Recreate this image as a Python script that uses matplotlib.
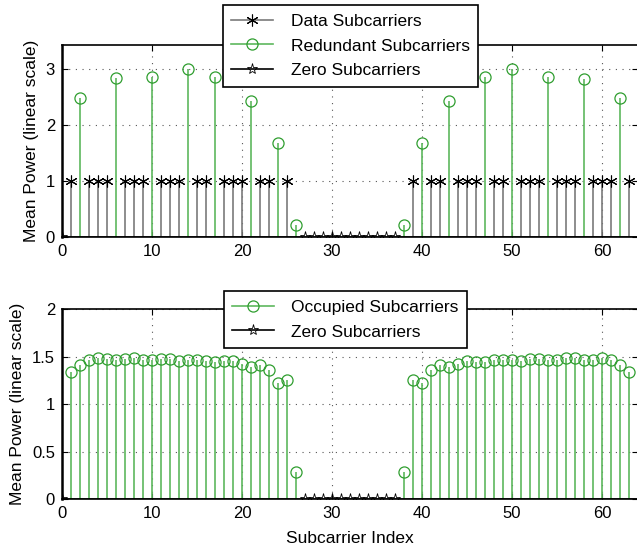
import numpy as np
import matplotlib
matplotlib.use('Agg')
import matplotlib.pyplot as plt
from matplotlib.lines import Line2D
from matplotlib.legend_handler import HandlerLine2D

plt.rcParams['font.family'] = ['Liberation Sans', 'DejaVu Sans']
plt.rcParams['font.size'] = 12

# subcarrier indices
data_idx = [1, 3, 4, 5, 7, 8, 9, 11, 12, 13, 15, 16, 18, 19, 20, 22, 23, 25,
            39, 41, 42, 44, 45, 46, 48, 49, 51, 52, 53, 55, 56, 57, 59, 60, 61, 63]
data_pow = [1.0] * len(data_idx)

red_idx = [2, 6, 10, 14, 17, 21, 24, 26, 38, 40, 43, 47, 50, 54, 58, 62]
red_pow = [2.47, 2.83, 2.85, 3.0, 2.86, 2.43, 1.67, 0.22,
           0.22, 1.67, 2.43, 2.86, 2.99, 2.85, 2.82, 2.47]

zero_idx = [0, 27, 28, 29, 30, 31, 32, 33, 34, 35, 36, 37]
zero_pow = [0.0] * len(zero_idx)

occ_idx = list(range(1, 27)) + list(range(38, 64))
occ_pow = [1.34, 1.41, 1.47, 1.49, 1.48, 1.47, 1.48, 1.49, 1.47, 1.47,
           1.48, 1.48, 1.46, 1.47, 1.47, 1.46, 1.45, 1.46, 1.46, 1.42,
           1.39, 1.41, 1.36, 1.22, 1.26, 0.29,
           0.29, 1.26, 1.22, 1.36, 1.41, 1.39, 1.42, 1.46, 1.45, 1.44,
           1.47, 1.47, 1.47, 1.46, 1.48, 1.48, 1.47, 1.47, 1.49, 1.49,
           1.47, 1.47, 1.49, 1.47, 1.41, 1.34]

green = '#2f9e2f'
green_stem = '#5db85d'
gray_stem = '#7a7a7a'
asterisk = (6, 2, 0)


class EndMarker(HandlerLine2D):
    # matlab style legend entry: line with the marker at its right end
    def get_xdata(self, legend, xdescent, ydescent, width, height, fontsize):
        return np.array([-xdescent, -xdescent + width]), np.array([-xdescent + width])


def stem(ax, x, y, stemcolor, marker, mcolor, ms, mew, label):
    markerline, stemlines, baseline = ax.stem(x, y, basefmt=' ')
    plt.setp(stemlines, color=stemcolor, linewidth=1.2)
    plt.setp(markerline, marker=marker, markersize=ms, markerfacecolor='none',
             markeredgecolor=mcolor, markeredgewidth=mew, zorder=4)
    return Line2D([], [], color=stemcolor, linewidth=1.2, marker=marker, markersize=ms,
                  markerfacecolor='none', markeredgecolor=mcolor, markeredgewidth=mew, label=label)


def style(ax, ymax, yticks, ylabels):
    ax.set_xlim(0, 64)
    ax.set_ylim(0, ymax)
    ax.set_xticks([0, 10, 20, 30, 40, 50, 60])
    ax.set_yticks(yticks)
    ax.set_yticklabels(ylabels)
    ax.tick_params(direction='in', top=True, right=True, length=4, width=0.8, labelsize=12, pad=5)
    ax.grid(True, color='#555555', linestyle=(0, (1, 5)), linewidth=0.8)
    ax.axhline(0, color='black', linewidth=1.8, zorder=3)
    for s in ax.spines.values():
        s.set_linewidth(1.2)
    ax.spines['left'].set_linewidth(1.8)
    ax.set_ylabel('Mean Power (linear scale)', fontsize=12.5, labelpad=5)


def legend(ax, handles, cx, top):
    leg = ax.legend(handles=handles, loc='upper center', bbox_to_anchor=(cx / 637, 1 - top / 550),
                    bbox_transform=fig.transFigure, borderaxespad=0, fancybox=False, framealpha=1,
                    edgecolor='black', handlelength=2.4, handletextpad=1.0, labelspacing=0.55,
                    borderpad=0.5, fontsize=12.5, handler_map={Line2D: EndMarker()})
    leg.get_frame().set_linewidth(1.2)
    return leg


fig = plt.figure(figsize=(6.37, 5.5), dpi=100)

ax1 = fig.add_axes([0.0973, 0.569, 0.9042, 0.349])
h1 = stem(ax1, data_idx, data_pow, gray_stem, asterisk, 'black', 8.5, 0.8, 'Data Subcarriers')
h2 = stem(ax1, red_idx, red_pow, green_stem, 'o', green, 8, 0.9, 'Redundant Subcarriers')
h3 = stem(ax1, zero_idx, zero_pow, 'black', '*', 'black', 8, 0.6, 'Zero Subcarriers')
style(ax1, 3.42, [0, 1, 2, 3], ['0', '1', '2', '3'])
legend(ax1, [h1, h2, h3], 350.5, 5)

ax2 = fig.add_axes([0.0973, 0.0922, 0.9042, 0.3455])
h4 = stem(ax2, occ_idx, occ_pow, green_stem, 'o', green, 8, 0.9, 'Occupied Subcarriers')
h5 = stem(ax2, zero_idx, zero_pow, 'black', '*', 'black', 8, 0.6, 'Zero Subcarriers')
style(ax2, 2, [0, 0.5, 1, 1.5, 2], ['0', '0.5', '1', '1.5', '2'])
ax2.set_xlabel('Subcarrier Index', fontsize=12.5, labelpad=7)
legend(ax2, [h4, h5], 345.5, 291)

fig.savefig('out.png', dpi=100)
